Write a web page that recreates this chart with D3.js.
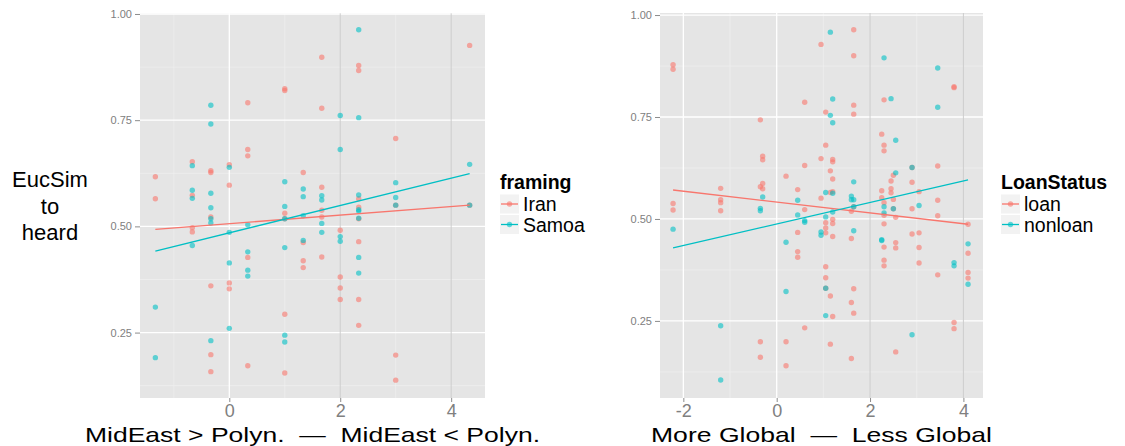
<!DOCTYPE html>
<html>
<head>
<meta charset="utf-8">
<script src="https://d3js.org/d3.v7.min.js"></script>
<style>
  body { margin: 0; background: #fff; }
  text { font-family: "Liberation Sans", Arial, sans-serif; }
</style>
</head>
<body>
<svg id="chart" width="1125" height="446"></svg>
<script>
// ---- data ----
// left panel (framing), each entry: [x, [y values...]]
var iranGroups = [
    [-1.333, [0.617, 0.565]],
    [-0.667, [0.652, 0.573, 0.497, 0.487]],
    [-0.333, [0.631, 0.627, 0.522, 0.360, 0.198, 0.158]],
    [0,      [0.645, 0.597, 0.367, 0.353]],
    [0.333,  [0.791, 0.681, 0.666, 0.427, 0.172]],
    [1,      [0.824, 0.820, 0.531, 0.518, 0.293, 0.155]],
    [1.333,  [0.627, 0.462, 0.419, 0.403]],
    [1.667,  [0.898, 0.778, 0.592, 0.538, 0.522, 0.428]],
    [2,      [0.491, 0.381, 0.355, 0.328]],
    [2.333,  [0.879, 0.867, 0.565, 0.545, 0.518, 0.464, 0.328, 0.267]],
    [3,      [0.707, 0.550, 0.197, 0.138]],
    [4.333,  [0.926, 0.550]]
];
var samoaGroups = [
    [-1.333, [0.310, 0.191]],
    [-0.667, [0.643, 0.585, 0.566, 0.455]],
    [-0.333, [0.785, 0.741, 0.578, 0.544, 0.518, 0.508, 0.231]],
    [0,      [0.639, 0.486, 0.414, 0.260]],
    [0.333,  [0.504, 0.440, 0.397, 0.383]],
    [1,      [0.605, 0.547, 0.518, 0.450, 0.244, 0.228]],
    [1.333,  [0.588, 0.570, 0.525, 0.467]],
    [1.667,  [0.572, 0.562, 0.507, 0.486]],
    [2,      [0.761, 0.681, 0.476, 0.465]],
    [2.333,  [0.963, 0.756, 0.574, 0.539, 0.536, 0.519, 0.427, 0.390]],
    [3,      [0.603, 0.568, 0.550]],
    [4.333,  [0.646, 0.550]]
];
// right panel (LoanStatus)
var loanGroups = [
    [-2.22, [0.878, 0.867, 0.538, 0.522]],
    [-1.20, [0.575, 0.547, 0.540, 0.520]],
    [-0.35, [0.743, 0.579, 0.199, 0.161]],
    [-0.30, [0.654, 0.645, 0.587, 0.574]],
    [0.20,  [0.605, 0.199, 0.140]],
    [0.45,  [0.572, 0.467, 0.420, 0.406]],
    [0.60,  [0.786, 0.631, 0.523, 0.233]],
    [0.95,  [0.928, 0.648, 0.551]],
    [1.05,  [0.762, 0.681, 0.491, 0.478, 0.466, 0.383, 0.356, 0.330]],
    [1.15,  [0.618, 0.565, 0.311, 0.193]],
    [1.20,  [0.646, 0.640, 0.598, 0.567, 0.499, 0.489, 0.457, 0.261]],
    [1.60,  [0.519, 0.452, 0.295, 0.158]],
    [1.65,  [0.964, 0.900, 0.779, 0.757, 0.530, 0.329, 0.269]],
    [2.25,  [0.708, 0.569, 0.552]],
    [2.30,  [0.792, 0.681, 0.667, 0.540, 0.509, 0.488, 0.431, 0.399, 0.385]],
    [2.45,  [0.593, 0.574, 0.564]],
    [2.50,  [0.607, 0.548, 0.525]],
    [2.55,  [0.504, 0.442, 0.429, 0.174]],
    [2.90,  [0.626, 0.590, 0.525, 0.463]],
    [3.05,  [0.567, 0.466, 0.430, 0.392]],
    [3.45,  [0.630, 0.546, 0.508, 0.363]],
    [3.80,  [0.824, 0.822, 0.246, 0.231]],
    [4.10,  [0.487, 0.416, 0.369, 0.355]]
];
var nonloanGroups = [
    [-2.22, [0.475]],
    [-1.20, [0.238, 0.105]],
    [-0.35, [0.526, 0.520]],
    [-0.30, [0.554]],
    [0.20,  [0.443, 0.322]],
    [0.45,  [0.546, 0.510]],
    [0.60,  [0.496, 0.492]],
    [0.95,  [0.468, 0.460]],
    [1.05,  [0.565, 0.505, 0.330, 0.263]],
    [1.15,  [0.958, 0.754]],
    [1.20,  [0.794, 0.736, 0.563, 0.517]],
    [1.60,  [0.556, 0.547]],
    [1.65,  [0.591, 0.547, 0.530, 0.471]],
    [2.25,  [0.449, 0.447]],
    [2.30,  [0.895, 0.530, 0.515]],
    [2.45,  [0.795]],
    [2.50,  [0.525]],
    [2.55,  [0.693, 0.613]],
    [2.90,  [0.626, 0.216]],
    [3.05,  [0.533]],
    [3.45,  [0.870, 0.774]],
    [3.80,  [0.393, 0.385]],
    [4.10,  [0.439, 0.340]]
];

// fitted lines (end points)
var iranFit = [[-1.333, 0.493], [4.333, 0.550]];
var samoaFit = [[-1.333, 0.442], [4.333, 0.624]];
var loanFit = [[-2.22, 0.571], [4.10, 0.487]];
var nonloanFit = [[-2.22, 0.429], [4.10, 0.596]];

// ticks
var yTicks = [0.25, 0.50, 0.75, 1.00];
var yMinor = [0.125, 0.375, 0.625, 0.875];
var leftXTicks = [0, 2, 4];
var rightXTicks = [-2, 0, 2, 4];
var xMinor = [-1, 1, 3];

var framingLabels = ["Iran", "Samoa"];
var loanLabels = ["loan", "nonloan"];
var colors = ["#F8766D", "#00BFC4"];

function flatten(groups) {
    var out = [];
    groups.forEach(function(g) {
        g[1].forEach(function(v) { out.push([g[0], v]); });
    });
    return out;
}

var svg = d3.select("#chart");

function drawPanel(p) {
    var x = d3.scaleLinear().domain(p.xDomain).range([p.left, p.right]);
    var y = d3.scaleLinear().domain(p.yDomain).range([p.bottom, p.top]);
    var g = svg.append("g");

    g.append("rect")
        .attr("x", p.left).attr("y", p.top)
        .attr("width", p.right - p.left).attr("height", p.bottom - p.top)
        .attr("fill", "#E5E5E5");

    // minor grid
    g.selectAll(".ymin").data(yMinor).enter().append("line")
        .attr("x1", p.left).attr("x2", p.right)
        .attr("y1", function(d) { return y(d); }).attr("y2", function(d) { return y(d); })
        .attr("stroke", "#F2F2F2").attr("stroke-width", 0.6);
    g.selectAll(".xmin").data(xMinor).enter().append("line")
        .attr("y1", p.top).attr("y2", p.bottom)
        .attr("x1", function(d) { return x(d); }).attr("x2", function(d) { return x(d); })
        .attr("stroke", "#F2F2F2").attr("stroke-width", 0.6);

    // major grid
    g.selectAll(".ymaj").data(yTicks).enter().append("line")
        .attr("x1", p.left).attr("x2", p.right)
        .attr("y1", function(d) { return y(d); }).attr("y2", function(d) { return y(d); })
        .attr("stroke", "#fff").attr("stroke-width", 1.3);
    g.selectAll(".xmaj").data(p.xTicks).enter().append("line")
        .attr("y1", p.top).attr("y2", p.bottom)
        .attr("x1", function(d) { return x(d); }).attr("x2", function(d) { return x(d); })
        .attr("stroke", function(d) { return d >= 2 ? "#CDCDCD" : "#fff"; })
        .attr("stroke-width", function(d) { return d >= 2 ? 1 : 1.3; });

    // points
    p.series.forEach(function(s, i) {
        g.append("g").selectAll("circle")
            .data(flatten(s))
            .enter().append("circle")
            .attr("cx", function(d) { return x(d[0]); })
            .attr("cy", function(d) { return y(d[1]); })
            .attr("r", 2.7)
            .attr("fill", colors[i])
            .attr("fill-opacity", 0.6);
    });

    // fit lines
    var line = d3.line().x(function(d) { return x(d[0]); }).y(function(d) { return y(d[1]); });
    p.fits.forEach(function(f, i) {
        g.append("path").attr("d", line(f))
            .attr("fill", "none").attr("stroke", colors[i]).attr("stroke-width", 1.3);
    });

    // axes
    var ya = g.append("g").attr("transform", "translate(" + p.left + ",0)")
        .call(d3.axisLeft(y).tickValues(yTicks).tickSize(5).tickPadding(3).tickFormat(d3.format(".2f")));
    ya.select(".domain").remove();
    ya.selectAll("line").attr("stroke", "#8C8C8C");
    ya.selectAll("text").attr("fill", "#808080").style("font-size", "11px");

    var xa = g.append("g").attr("transform", "translate(0," + p.bottom + ")")
        .call(d3.axisBottom(x).tickValues(p.xTicks).tickSize(4).tickPadding(2.5).tickFormat(function(d) { return String(d); }));
    xa.select(".domain").remove();
    xa.selectAll("line").attr("stroke", "#8C8C8C");
    xa.selectAll("text").attr("fill", "#808080").style("font-size", "18px");

    // x title
    g.append("text")
        .attr("x", (p.left + p.right) / 2).attr("y", 442)
        .attr("text-anchor", "middle")
        .attr("xml:space", "preserve")
        .attr("textLength", p.xTitleWidth)
        .attr("lengthAdjust", "spacingAndGlyphs")
        .style("white-space", "pre")
        .style("font-size", "21px")
        .text(p.xTitle);

    // legend
    var lg = g.append("g").attr("transform", "translate(" + p.legendX + ",0)");
    lg.append("text").attr("x", 0).attr("y", 189)
        .style("font-size", "19.5px").style("font-weight", "bold")
        .text(p.legendTitle);
    p.labels.forEach(function(lab, i) {
        var cy = 204 + i * 20.5;
        lg.append("rect").attr("x", 0).attr("y", cy - 9.5)
            .attr("width", 19).attr("height", 19).attr("fill", "#F2F2F2");
        lg.append("line").attr("x1", 1).attr("x2", 18).attr("y1", cy).attr("y2", cy)
            .attr("stroke", colors[i]).attr("stroke-width", 1.3);
        lg.append("circle").attr("cx", 9.5).attr("cy", cy).attr("r", 2.7)
            .attr("fill", colors[i]).attr("fill-opacity", 0.6);
        lg.append("text").attr("x", 23).attr("y", cy + 7)
            .style("font-size", "19.5px")
            .text(lab);
    });
}

drawPanel({
    left: 140, right: 485, top: 13.3, bottom: 398,
    xDomain: [-1.61, 4.61], yDomain: [0.096, 1.0016],
    xTicks: leftXTicks,
    series: [iranGroups, samoaGroups],
    fits: [iranFit, samoaFit],
    xTitle: "MidEast > Polyn.  \u2014  MidEast < Polyn.", xTitleWidth: 455,
    legendX: 500, legendTitle: "framing", labels: framingLabels
});

drawPanel({
    left: 660, right: 983, top: 13, bottom: 398,
    xDomain: [-2.50, 4.42], yDomain: [0.061, 1.005],
    xTicks: rightXTicks,
    series: [loanGroups, nonloanGroups],
    fits: [loanFit, nonloanFit],
    xTitle: "More Global  \u2014  Less Global", xTitleWidth: 341,
    legendX: 1001, legendTitle: "LoanStatus", labels: loanLabels
});

// y title of left panel
var yt = svg.append("text")
    .attr("text-anchor", "middle")
    .style("font-size", "22px");
["EucSim", "to", "heard"].forEach(function(t, i) {
    yt.append("tspan").attr("x", 50).attr("y", 187 + i * 26.5).text(t);
});
</script>
</body>
</html>
